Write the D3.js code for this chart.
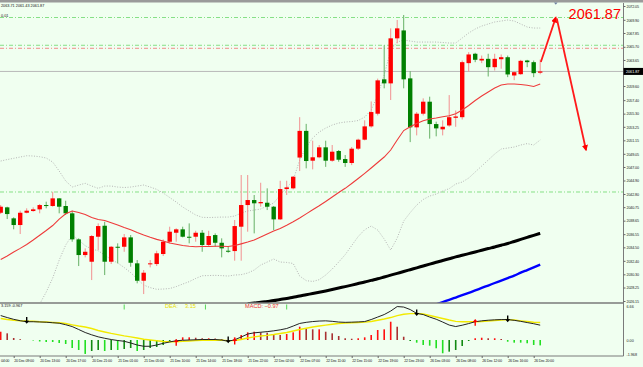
<!DOCTYPE html>
<html>
<head>
<meta charset="utf-8">
<script src="https://cdn.jsdelivr.net/npm/d3@7"></script>
<style>
  body { margin: 0; background: #f0fff0; }
  svg { display: block; }
  text { font-family: "Liberation Sans", Arial, sans-serif; }
</style>
</head>
<body>
<div id="chart"></div>
<script>
// hourly bars, oldest first
var opens = [2039.88, 2040.72, 2039.01, 2037.97, 2039.88, 2040.15, 2040.41, 2041.08, 2040.93, 2042.12,
  2040.93, 2039.79, 2035.74, 2033.30, 2032.26, 2036.15, 2037.86, 2032.26, 2034.59, 2034.59,
  2036.05, 2032.01, 2029.30, 2031.86, 2031.90, 2033.46, 2035.37, 2036.77, 2037.30, 2036.15,
  2036.15, 2036.77, 2034.86, 2036.41, 2035.21, 2033.97, 2033.92, 2037.71, 2041.08, 2041.86,
  2041.35, 2041.44, 2040.82, 2038.85, 2043.57, 2043.68, 2048.47, 2052.62, 2047.98, 2048.51,
  2050.06, 2047.98, 2049.49, 2048.24, 2047.62, 2049.85, 2051.25, 2053.32, 2055.29, 2060.64,
  2060.01, 2067.02, 2068.25, 2060.79, 2053.17, 2055.29, 2057.16, 2053.68, 2052.86, 2053.46,
  2054.65, 2054.75, 2063.16, 2064.62, 2063.57, 2063.83, 2062.53, 2063.77, 2064.08, 2061.24,
  2061.44, 2063.57, 2063.31, 2061.67];
var highs = [2041.08, 2040.82, 2039.17, 2040.20, 2040.57, 2040.72, 2041.24, 2041.60, 2043.15, 2042.17,
  2041.75, 2040.20, 2035.90, 2034.34, 2036.41, 2038.23, 2038.48, 2034.70, 2035.12, 2036.57,
  2036.41, 2032.52, 2030.97, 2032.52, 2033.97, 2035.74, 2037.71, 2037.46, 2037.71, 2038.23,
  2037.08, 2037.19, 2037.08, 2036.67, 2035.90, 2034.59, 2038.75, 2045.75, 2045.75, 2042.64,
  2044.55, 2043.68, 2040.93, 2044.86, 2044.86, 2045.60, 2054.75, 2053.71, 2051.09, 2050.42,
  2051.09, 2050.42, 2049.64, 2048.86, 2050.11, 2051.41, 2054.26, 2057.20, 2060.75, 2065.94,
  2068.57, 2069.87, 2070.65, 2061.92, 2055.55, 2057.68, 2057.94, 2054.05, 2054.26, 2058.19,
  2055.79, 2063.57, 2064.87, 2064.77, 2064.34, 2064.62, 2064.62, 2064.51, 2064.34, 2061.92,
  2063.67, 2063.67, 2063.57, 2063.71];
var lows = [2039.68, 2038.90, 2037.30, 2036.57, 2039.79, 2040.04, 2039.79, 2040.57, 2040.82, 2039.79,
  2039.53, 2035.37, 2031.59, 2032.94, 2029.41, 2034.08, 2030.19, 2031.90, 2032.01, 2033.81,
  2031.48, 2028.90, 2027.23, 2031.38, 2031.59, 2033.15, 2035.12, 2035.37, 2036.05, 2035.12,
  2035.37, 2033.81, 2034.59, 2034.59, 2032.94, 2033.66, 2032.42, 2032.42, 2036.93, 2036.67,
  2040.82, 2040.30, 2037.19, 2038.75, 2042.64, 2043.52, 2046.37, 2046.79, 2046.63, 2048.36,
  2047.02, 2047.82, 2047.82, 2047.02, 2047.29, 2049.64, 2051.14, 2053.12, 2055.02, 2059.24,
  2057.42, 2066.24, 2059.24, 2050.87, 2051.92, 2055.02, 2051.41, 2051.77, 2051.92, 2053.26,
  2053.26, 2054.39, 2061.82, 2063.31, 2063.16, 2061.08, 2062.01, 2062.29, 2060.98, 2060.51,
  2061.35, 2062.53, 2060.98, 2061.43];
var closes = [2040.82, 2039.68, 2037.97, 2039.88, 2040.20, 2040.41, 2041.08, 2040.93, 2042.12, 2040.82,
  2039.79, 2035.74, 2033.30, 2033.81, 2036.26, 2037.81, 2032.26, 2034.59, 2034.44, 2036.05,
  2032.10, 2029.30, 2030.55, 2032.01, 2033.57, 2035.37, 2036.93, 2037.30, 2036.15, 2035.99,
  2036.77, 2034.86, 2036.26, 2035.21, 2034.34, 2033.88, 2037.81, 2041.08, 2041.86, 2041.35,
  2041.55, 2040.82, 2038.85, 2043.57, 2043.83, 2045.49, 2052.62, 2047.93, 2048.51, 2050.06,
  2047.98, 2049.38, 2048.13, 2047.62, 2049.85, 2051.25, 2053.32, 2055.55, 2060.48, 2060.01,
  2067.02, 2068.57, 2060.64, 2053.17, 2055.29, 2057.16, 2053.68, 2053.01, 2053.26, 2054.75,
  2054.86, 2063.31, 2064.51, 2063.68, 2063.83, 2062.53, 2063.83, 2064.08, 2061.40, 2061.75,
  2063.52, 2063.31, 2061.60, 2061.87];

// bollinger middle (red) and bands (grey dotted)
var bbMid = [2032.60, 2033.15, 2033.77, 2034.34, 2034.94, 2035.64, 2036.38, 2037.11, 2037.89, 2038.90,
  2039.71, 2040.15, 2039.91, 2039.60, 2039.14, 2038.83, 2038.67, 2038.31, 2037.97, 2037.58,
  2037.22, 2036.80, 2036.41, 2036.06, 2035.74, 2035.48, 2035.17, 2034.97, 2034.78, 2034.66,
  2034.59, 2034.62, 2034.62, 2034.66, 2034.66, 2034.62, 2034.78, 2035.04, 2035.32, 2035.64,
  2036.10, 2036.57, 2037.04, 2037.43, 2037.94, 2038.48, 2039.06, 2039.71, 2040.35, 2040.96,
  2041.63, 2042.33, 2043.03, 2043.68, 2044.43, 2045.21, 2046.01, 2046.84, 2047.70, 2048.55,
  2049.64, 2051.20, 2052.67, 2053.25, 2053.76, 2054.20, 2054.46, 2054.62, 2054.81, 2054.96,
  2055.30, 2055.86, 2056.56, 2057.34, 2058.04, 2058.66, 2059.29, 2059.75, 2059.91, 2059.91,
  2059.83, 2059.71, 2059.52, 2059.91];
var bbUpper = [2047.93, 2048.16, 2048.35, 2048.55, 2048.75, 2048.71, 2048.60, 2048.40, 2047.77, 2046.37,
  2044.82, 2043.88, 2044.19, 2044.46, 2044.04, 2043.68, 2044.04, 2044.04, 2043.88, 2043.81,
  2043.88, 2044.04, 2044.19, 2043.88, 2043.52, 2042.95, 2042.25, 2041.55, 2040.77, 2040.15,
  2039.53, 2039.17, 2039.14, 2039.17, 2039.21, 2039.21, 2039.37, 2039.84, 2040.15, 2040.30,
  2040.46, 2040.93, 2041.39, 2042.64, 2043.73, 2044.97, 2048.08, 2050.11, 2051.51, 2052.44,
  2053.06, 2053.53, 2053.84, 2054.00, 2054.07, 2054.23, 2054.77, 2055.86, 2058.20, 2061.31,
  2065.20, 2066.44, 2066.76, 2066.60, 2066.44, 2066.44, 2066.44, 2066.44, 2066.37, 2066.29,
  2066.29, 2067.07, 2067.85, 2068.47, 2068.93, 2069.25, 2069.56, 2069.71, 2069.87, 2069.71,
  2069.25, 2068.78, 2068.62, 2068.62];
var bbLower = [2017.28, 2018.13, 2019.19, 2020.14, 2021.94, 2023.81, 2025.68, 2027.54, 2029.72, 2032.52,
  2034.86, 2036.41, 2035.64, 2034.75, 2034.24, 2033.97, 2033.30, 2032.59, 2032.06, 2031.36,
  2030.56, 2029.57, 2028.63, 2028.23, 2027.97, 2028.01, 2028.09, 2028.39, 2028.79, 2029.16,
  2029.66, 2030.08, 2030.11, 2030.14, 2030.10, 2030.03, 2030.19, 2030.25, 2030.50, 2030.97,
  2031.75, 2032.21, 2032.68, 2032.21, 2032.15, 2031.99, 2030.03, 2029.32, 2029.19, 2029.47,
  2030.19, 2031.12, 2032.21, 2033.36, 2034.78, 2036.18, 2037.25, 2037.81, 2037.19, 2035.79,
  2034.08, 2035.95, 2038.59, 2039.90, 2041.08, 2041.95, 2042.48, 2042.79, 2043.26, 2043.63,
  2044.35, 2044.66, 2045.28, 2046.22, 2047.15, 2048.08, 2049.02, 2049.80, 2049.95, 2050.11,
  2050.42, 2050.64, 2050.42, 2051.20];

// slow moving averages, only the visible tail
var maBlackStart = 38;
var maBlack = [2025.71, 2025.83, 2025.94, 2026.08, 2026.22, 2026.39, 2026.55, 2026.74, 2026.92, 2027.12,
  2027.31, 2027.51, 2027.72, 2027.94, 2028.17, 2028.39, 2028.62, 2028.86, 2029.10, 2029.36,
  2029.61, 2029.89, 2030.17, 2030.45, 2030.73, 2031.02, 2031.31, 2031.60, 2031.89, 2032.17,
  2032.46, 2032.73, 2033.01, 2033.26, 2033.52, 2033.78, 2034.05, 2034.31, 2034.56, 2034.83,
  2035.09, 2035.41, 2035.73, 2036.05, 2036.37, 2036.68];
var maBlueStart = 67;
var maBlue = [2025.63, 2025.99, 2026.33, 2026.69, 2027.05, 2027.42, 2027.79, 2028.18, 2028.56, 2028.95,
  2029.33, 2029.72, 2030.10, 2030.55, 2030.97, 2031.39, 2031.82];

// macd sub window
var dif = [4.40, 4.04, 3.72, 3.47, 3.29, 3.29, 3.25, 3.20, 3.11, 3.02,
  2.75, 2.42, 1.89, 1.35, 0.93, 0.57, 0.31, 0.09, -0.09, -0.23,
  -0.54, -0.90, -1.13, -1.13, -0.90, -0.60, -0.35, -0.13, -0.05, 0.00,
  0.04, 0.09, 0.09, 0.09, 0.00, -0.23, 0.04, 0.54, 1.08, 1.29,
  1.40, 1.51, 1.65, 1.83, 2.07, 2.51, 2.98, 3.18, 3.32, 3.41,
  3.45, 3.36, 3.23, 3.18, 3.21, 3.25, 3.32, 3.68, 4.13, 4.58,
  5.21, 6.02, 5.93, 5.48, 4.79, 4.58, 4.13, 3.74, 3.23, 2.69,
  2.42, 2.66, 2.96, 3.29, 3.45, 3.56, 3.63, 3.68, 3.68, 3.54,
  3.36, 3.14, 2.93, 2.67];
var dea = [3.86, 3.68, 3.56, 3.47, 3.41, 3.38, 3.29, 3.23, 3.16, 3.11,
  2.96, 2.73, 2.51, 2.33, 2.07, 1.71, 1.44, 1.19, 0.97, 0.75,
  0.57, 0.36, 0.14, 0.00, -0.14, -0.27, -0.31, -0.31, -0.25, -0.18,
  -0.11, -0.05, -0.04, -0.04, -0.05, -0.11, -0.09, 0.09, 0.36, 0.57,
  0.72, 0.84, 0.99, 1.17, 1.35, 1.62, 1.89, 2.12, 2.33, 2.51,
  2.68, 2.84, 2.96, 3.05, 3.11, 3.16, 3.21, 3.32, 3.56, 3.77,
  4.04, 4.40, 4.63, 4.74, 4.79, 4.67, 4.40, 4.13, 3.86, 3.59,
  3.36, 3.29, 3.29, 3.29, 3.32, 3.41, 3.50, 3.59, 3.68, 3.59,
  3.45, 3.32, 3.20, 3.15];
var macdHist = [1.49, 1.20, 0.36, 0.14, 0.00, -0.09, -0.27, -0.36, -0.36, -0.54,
  -0.72, -1.44, -1.80, -2.51, -1.98, -1.80, -1.98, -1.80, -1.80, -1.62,
  -1.44, -1.98, -1.80, -1.44, -1.26, -0.90, -0.36, 0.09, 0.48, 0.48,
  0.41, 0.31, 0.31, 0.27, 0.18, -0.05, 0.48, 0.90, 1.38, 1.49,
  1.38, 1.31, 1.08, 0.90, 1.08, 1.38, 2.39, 2.10, 1.92, 1.92,
  1.49, 1.20, 0.72, 0.31, 0.23, 0.31, 0.48, 0.90, 1.80, 1.92,
  3.29, 2.39, 0.59, -0.18, -0.48, -0.90, -1.02, -1.49, -2.39, -2.10,
  -1.80, -1.08, -0.18, 0.31, 0.41, 0.31, 0.31, 0.18, -0.31, -0.48,
  -0.48, -0.59, -0.90, -0.97];
var crossDown = [4, 35, 64, 78];
var crossUp = [27, 36, 73];

// axes
var timeLabels = ["20 Dec 04:00", "20 Dec 09:00", "20 Dec 13:00", "20 Dec 17:00", "20 Dec 21:00",
  "21 Dec 01:00", "21 Dec 05:00", "21 Dec 10:00", "21 Dec 14:00", "21 Dec 18:00", "21 Dec 22:00",
  "22 Dec 02:00", "22 Dec 07:00", "22 Dec 11:00", "22 Dec 15:00", "22 Dec 19:00", "22 Dec 23:00",
  "26 Dec 03:00", "26 Dec 08:00", "26 Dec 12:00", "26 Dec 16:00", "26 Dec 20:00"];
var firstLabelBar = -2, labelStep = 4;
var priceTicks = [2072.05, 2069.90, 2067.85, 2065.70, 2063.65, 2059.60, 2057.40, 2055.30, 2053.25,
  2051.15, 2049.05, 2047.00, 2044.90, 2042.80, 2040.75, 2038.65, 2036.55, 2034.50, 2032.40,
  2030.30, 2028.25, 2026.15];
var macdTicks = [6.66, 0, -1.968];

// levels and forecast drawn by the trader
var greenLevels = [2070.26, 2065.94, 2043.11];
var redLevels = [2065.47];
var lastPrice = 2061.87;
var forecastUp = [[83.1, 2063.33], [85.4, 2070.26]];
var forecastDown = [[85.55, 2070.1], [90.05, 2049.64]];

var W = 643, H = 367;
var axisX = 623.5, mainTop = 3, mainBottom = 303, macdBottom = 356;

var svg = d3.select("#chart").append("svg")
    .attr("width", W)
    .attr("height", H);

svg.append("rect").attr("width", W).attr("height", H).attr("fill", "#f0fff0");
svg.append("rect").attr("width", W).attr("height", 2.5).attr("fill", "#9a9a9a");

var x = d3.scaleLinear().domain([0, 83]).range([0.7, 540.2]);
var y = d3.scaleLinear().domain([2026.15, 2072.05]).range([301, 6]);
var ym = d3.scaleLinear().domain([0, 6.66]).range([340, 303]);

var defs = svg.append("defs");
defs.append("clipPath").attr("id", "clipMain")
  .append("rect").attr("x", 0).attr("y", mainTop).attr("width", axisX).attr("height", mainBottom - mainTop);
defs.append("clipPath").attr("id", "clipMacd")
  .append("rect").attr("x", 0).attr("y", mainBottom).attr("width", axisX).attr("height", macdBottom - mainBottom);
defs.append("marker")
    .attr("id", "ah")
    .attr("viewBox", "0 0 10 10")
    .attr("refX", 8).attr("refY", 5)
    .attr("markerWidth", 3.6).attr("markerHeight", 3.4)
    .attr("orient", "auto")
  .append("path")
    .attr("d", "M0,0L10,5L0,10z")
    .attr("fill", "#ff0000");

var main = svg.append("g").attr("clip-path", "url(#clipMain)");

// horizontal levels
main.selectAll(".lvl-g").data(greenLevels).enter().append("line")
    .attr("x1", 0).attr("x2", axisX)
    .attr("y1", d => y(d)).attr("y2", d => y(d))
    .attr("stroke", "#86e086").attr("stroke-width", 1)
    .attr("stroke-dasharray", "4,2,1,2");
main.selectAll(".lvl-r").data(redLevels).enter().append("line")
    .attr("x1", 0).attr("x2", axisX)
    .attr("y1", d => y(d)).attr("y2", d => y(d))
    .attr("stroke", "#f08a8a").attr("stroke-width", 1)
    .attr("stroke-dasharray", "4,2,1,2");
main.append("line")
    .attr("x1", 0).attr("x2", axisX)
    .attr("y1", y(lastPrice)).attr("y2", y(lastPrice))
    .attr("stroke", "#b8b8b8").attr("stroke-width", 1);

// bollinger bands
var bandLine = d3.line().x((d, i) => x(i)).y(d => y(d));
[bbUpper, bbLower].forEach(function(band) {
  main.append("path")
      .attr("d", bandLine(band))
      .attr("fill", "none")
      .attr("stroke", "#b4b4b4")
      .attr("stroke-width", 1)
      .attr("stroke-dasharray", "1,1.6");
});

// candles
var bars = opens.map(function(o, i) {
  return {i: i, o: o, h: highs[i], l: lows[i], c: closes[i], up: closes[i] >= o};
});
var candle = main.append("g").selectAll("g").data(bars).enter().append("g");
candle.append("line")
    .attr("x1", d => x(d.i)).attr("x2", d => x(d.i))
    .attr("y1", d => y(d.h)).attr("y2", d => y(d.l))
    .attr("stroke", d => d.up ? "#f29090" : "#66b066")
    .attr("stroke-width", 1);
candle.append("rect")
    .attr("x", d => x(d.i) - 2.2)
    .attr("width", 4.4)
    .attr("y", d => y(Math.max(d.o, d.c)))
    .attr("height", d => Math.max(1, Math.abs(y(d.o) - y(d.c))))
    .attr("fill", d => d.up ? "#ff0000" : "#008000");

// moving averages
main.append("path")
    .attr("d", bandLine(bbMid))
    .attr("fill", "none").attr("stroke", "#ee3b3b").attr("stroke-width", 1.1);
main.append("path")
    .attr("d", d3.line().x((d, i) => x(i + maBlackStart)).y(d => y(d)).curve(d3.curveMonotoneX)(maBlack))
    .attr("fill", "none").attr("stroke", "#000").attr("stroke-width", 3);
main.append("path")
    .attr("d", d3.line().x((d, i) => x(i + maBlueStart)).y(d => y(d)).curve(d3.curveMonotoneX)(maBlue))
    .attr("fill", "none").attr("stroke", "#0000ff").attr("stroke-width", 2.4);

// forecast arrows
var fLine = d3.line().x(d => x(d[0])).y(d => y(d[1]));
[forecastUp, forecastDown].forEach(function(seg) {
  main.append("path")
      .attr("d", fLine(seg))
      .attr("fill", "none")
      .attr("stroke", "#ff1a1a")
      .attr("stroke-width", 1.8)
      .attr("marker-end", "url(#ah)");
});
// chart shift marker
svg.append("path")
    .attr("d", "M" + (x(forecastUp[1][0]) - 1.8) + ",2.5h3.6l-1.8,2.2z")
    .attr("fill", "#7080a0");

svg.append("text")
    .attr("x", 621).attr("y", 18.5)
    .attr("text-anchor", "end")
    .attr("font-size", "14.5px")
    .attr("fill", "#ff0000")
    .text(d3.format(".2f")(lastPrice));

svg.append("text").attr("x", 1).attr("y", 7).attr("font-size", "3.8px").attr("fill", "#111")
    .text("2063.71 2061.43 2061.87");
svg.append("text").attr("x", 1).attr("y", 16.5).attr("font-size", "3.8px").attr("fill", "#111")
    .text("0.01");

// MACD window
var macd = svg.append("g").attr("clip-path", "url(#clipMacd)");
macd.selectAll("rect").data(macdHist).enter().append("rect")
    .attr("x", (d, i) => x(i) - 0.8)
    .attr("width", 1.6)
    .attr("y", d => Math.min(ym(d), ym(0)))
    .attr("height", d => Math.abs(ym(d) - ym(0)))
    .attr("fill", function(d, i) {
      var grow = i === 0 || Math.abs(d) >= Math.abs(macdHist[i - 1]);
      if (d >= 0) return grow ? "#ff1010" : "#a83232";
      return grow ? "#22e022" : "#118a11";
    });

var mLine = d3.line().x((d, i) => x(i)).y(d => ym(d));
macd.append("path").attr("d", mLine(dea))
    .attr("fill", "none").attr("stroke", "#f2ea00").attr("stroke-width", 1.4);
macd.append("path").attr("d", mLine(dif))
    .attr("fill", "none").attr("stroke", "#222").attr("stroke-width", 1);

macd.selectAll(".dn").data(crossDown).enter().append("path")
    .attr("transform", d => "translate(" + x(d) + "," + ym(dea[d]) + ")")
    .attr("d", "M-0.7,-4h1.4v3.6h1.8l-2.5,3l-2.5,-3h1.8z")
    .attr("fill", "#000");
macd.selectAll(".up").data(crossUp).enter().append("path")
    .attr("transform", d => "translate(" + x(d) + "," + ym(dea[d]) + ")")
    .attr("d", "M-0.7,4h1.4v-3.6h1.8l-2.5,-3l-2.5,3h1.8z")
    .attr("fill", "#ff0000");

// little green marks on the top of the window
svg.selectAll(".gm").data([19, 31.5, 44]).enter().append("line")
    .attr("x1", d => x(d)).attr("x2", d => x(d))
    .attr("y1", 304.5).attr("y2", 309.5)
    .attr("stroke", "#55d855").attr("stroke-width", 1);

svg.append("text").attr("x", 1).attr("y", 307).attr("font-size", "3.8px").attr("fill", "#111")
    .text("3.159 -0.967");
svg.append("text").attr("x", 165).attr("y", 307.5).attr("font-size", "5.6px").attr("fill", "#e8dc00")
    .text("DEA:");
svg.append("text").attr("x", 185).attr("y", 307.5).attr("font-size", "5.6px").attr("fill", "#e8dc00")
    .text(d3.format(".2f")(dea[dea.length - 1]));
svg.append("text").attr("x", 245).attr("y", 307.5).attr("font-size", "5.6px").attr("fill", "#ee3030")
    .text("MACD: " + d3.format(".2f")(macdHist[macdHist.length - 1]));

// frames
svg.append("line").attr("x1", 0).attr("x2", axisX).attr("y1", mainBottom).attr("y2", mainBottom)
    .attr("stroke", "#7a7a7a").attr("stroke-width", 1.6);
svg.append("line").attr("x1", 0).attr("x2", axisX).attr("y1", macdBottom).attr("y2", macdBottom)
    .attr("stroke", "#7a7a7a").attr("stroke-width", 1);
svg.append("line").attr("x1", axisX).attr("x2", axisX).attr("y1", mainTop).attr("y2", macdBottom)
    .attr("stroke", "#7a7a7a").attr("stroke-width", 1);

// price axis
var yAxis = svg.append("g")
    .attr("transform", "translate(" + axisX + ",0)")
    .call(d3.axisRight(y).tickValues(priceTicks).tickFormat(d3.format(".2f")).tickSize(2).tickPadding(1));
yAxis.select(".domain").remove();
yAxis.selectAll("text").attr("font-size", "3.7px").attr("font-family", "Liberation Sans, Arial, sans-serif")
    .attr("letter-spacing", "-0.15px").attr("fill", "#222");
yAxis.selectAll("line").attr("stroke", "#666");

svg.append("rect")
    .attr("x", axisX).attr("y", y(lastPrice) - 3.5)
    .attr("width", W - axisX).attr("height", 7)
    .attr("fill", "#000");
svg.append("text")
    .attr("x", axisX + 2.5).attr("y", y(lastPrice) + 1.3)
    .attr("font-size", "3.7px").attr("fill", "#fff")
    .text(d3.format(".2f")(lastPrice));

// macd axis
var mAxis = svg.append("g")
    .attr("transform", "translate(" + axisX + ",0)")
    .call(d3.axisRight(ym).tickValues(macdTicks).tickFormat(d => d === 0 ? "0.00" : String(d)).tickSize(0).tickPadding(3));
mAxis.select(".domain").remove();
mAxis.selectAll("text").attr("font-size", "3.7px").attr("font-family", "Liberation Sans, Arial, sans-serif")
    .attr("fill", "#222")
    .attr("y", d => d > 0 ? 3 : (d < 0 ? 3.2 : 0));

// time axis
var tickBars = timeLabels.map((t, k) => firstLabelBar + k * labelStep);
var xAxis = svg.append("g")
    .attr("transform", "translate(0," + macdBottom + ")")
    .call(d3.axisBottom(x).tickValues(tickBars).tickFormat((d, k) => timeLabels[k]).tickSize(2).tickPadding(1.5));
xAxis.select(".domain").remove();
xAxis.selectAll("line").attr("stroke", "#666");
xAxis.selectAll("text").attr("font-size", "3.7px").attr("font-family", "Liberation Sans, Arial, sans-serif")
    .attr("text-anchor", "start").attr("letter-spacing", "-0.2px").attr("fill", "#222");
// the oldest label runs off the left edge: only its clock part shows
xAxis.selectAll(".tick").filter(d => x(d) < 0).each(function(d) {
  var g = d3.select(this);
  g.select("line").remove();
  g.select("text").attr("x", 0.5 - x(d)).text(timeLabels[0].split(" ").pop());
});
</script>
</body>
</html>
